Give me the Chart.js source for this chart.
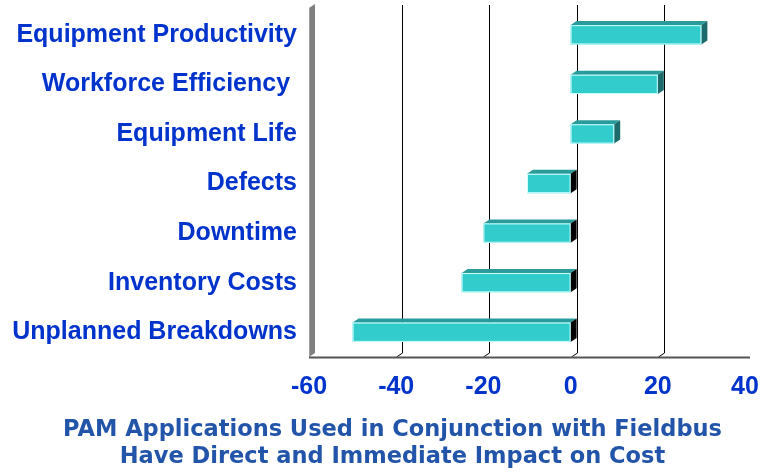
<!DOCTYPE html>
<html>
<head>
<meta charset="utf-8">
<script src="https://cdn.jsdelivr.net/npm/chart.js@4.4.1/dist/chart.umd.min.js"></script>
<style>
  html, body { margin: 0; padding: 0; background: #fff; }
</style>
</head>
<body>
<canvas id="impact" width="764" height="472"></canvas>
<script>
const categories = ["Equipment Productivity", "Workforce Efficiency ", "Equipment Life", "Defects", "Downtime", "Inventory Costs", "Unplanned Breakdowns"];
const impact = [30, 20, 10, -10, -20, -25, -50];
const xTicks = [-60, -40, -20, 0, 20, 40];
const titleLines = ["PAM Applications Used in Conjunction with Fieldbus", "Have Direct and Immediate Impact on Cost"];

// depth of the fake 3d look
const DX = 6, DY = 4;

const box3d = {
    id: 'box3d',
    afterLayout(chart) {
        // the caption sits a bit right of the canvas centre
        if (chart.titleBlock) chart.titleBlock.left = 40;
    },
    beforeDatasetsDraw(chart) {
        const ctx = chart.ctx;
        const area = chart.chartArea;
        const x = chart.scales.x;
        ctx.save();
        // back grid lines
        ctx.strokeStyle = '#000';
        ctx.lineWidth = 1;
        xTicks.forEach(v => {
            if (v === xTicks[0] || v === xTicks[xTicks.length - 1]) return;
            const px = Math.round(x.getPixelForValue(v)) + 0.5;
            ctx.beginPath();
            ctx.moveTo(px + DX, area.top - 5);
            ctx.lineTo(px + DX, area.bottom - DY);
            ctx.lineTo(px, area.bottom);
            ctx.stroke();
        });
        // left wall
        ctx.fillStyle = '#808080';
        ctx.beginPath();
        ctx.moveTo(area.left, area.bottom);
        ctx.lineTo(area.left, area.top - 2);
        ctx.lineTo(area.left + DX, area.top - 2 - DY);
        ctx.lineTo(area.left + DX, area.bottom - DY);
        ctx.closePath();
        ctx.fill();
        ctx.fillStyle = '#a0a0a0';
        ctx.fillRect(area.left, area.top - 2, 1, area.bottom - area.top + 2);
        // floor line
        ctx.strokeStyle = '#555';
        ctx.lineWidth = 2;
        ctx.beginPath();
        ctx.moveTo(area.left, area.bottom + 0.5);
        ctx.lineTo(area.right + 5, area.bottom + 0.5);
        ctx.stroke();
        ctx.restore();
    },
    afterDatasetsDraw(chart) {
        const ctx = chart.ctx;
        const meta = chart.getDatasetMeta(0);
        ctx.save();
        meta.data.forEach((bar, i) => {
            const left = Math.min(bar.x, bar.base);
            const right = Math.max(bar.x, bar.base);
            const top = bar.y - bar.height / 2;
            const bottom = bar.y + bar.height / 2;
            // top face
            ctx.fillStyle = '#2a9b9b';
            ctx.beginPath();
            ctx.moveTo(left, top);
            ctx.lineTo(left + DX, top - DY);
            ctx.lineTo(right + DX, top - DY);
            ctx.lineTo(right, top);
            ctx.closePath();
            ctx.fill();
            // end face
            ctx.fillStyle = impact[i] >= 0 ? '#1d6a6a' : '#000';
            ctx.beginPath();
            ctx.moveTo(right, top);
            ctx.lineTo(right + DX, top - DY);
            ctx.lineTo(right + DX, bottom - DY);
            ctx.lineTo(right, bottom);
            ctx.closePath();
            ctx.fill();
            ctx.strokeStyle = '#ccffff';
            ctx.lineWidth = 1;
            ctx.strokeRect(left + 0.5, top + 0.5, right - left - 1, bottom - top - 1);
        });
        ctx.restore();
    }
};

new Chart(document.getElementById("impact"), {
    type: 'bar',
    data: {
        labels: categories,
        datasets: [{
            label: "Impact",
            backgroundColor: "#33cccc",
            borderWidth: 0,
            data: impact,
            barPercentage: 0.39,
            categoryPercentage: 1
        }]
    },
    options: {
        indexAxis: 'y',
        responsive: false,
        animation: false,
        layout: {
            padding: { top: 10, right: 19, left: 0, bottom: 0 }
        },
        scales: {
            x: {
                min: -60,
                max: 40,
                grid: { display: false, drawTicks: false },
                border: { display: false },
                afterBuildTicks(scale) {
                    scale.ticks = xTicks.map(v => ({ value: v }));
                },
                afterFit(scale) {
                    scale.height = 60;
                    scale.paddingLeft = 0;
                    scale.paddingRight = 0;
                },
                ticks: {
                    color: '#0033cc',
                    padding: 15,
                    font: { family: 'Liberation Sans', size: 25, weight: 'bold' }
                }
            },
            y: {
                grid: { display: false, drawTicks: false },
                border: { display: false },
                afterFit(scale) {
                    scale.width = 309;
                    scale.paddingTop = 0;
                    scale.paddingBottom = 0;
                },
                ticks: {
                    color: '#0033cc',
                    padding: 12,
                    font: { family: 'Liberation Sans', size: 25, weight: 'bold' }
                }
            }
        },
        plugins: {
            legend: { display: false },
            tooltip: { enabled: false },
            title: {
                display: true,
                position: 'bottom',
                text: titleLines,
                color: '#2255aa',
                padding: { top: 0, bottom: 1 },
                font: { family: 'DejaVu Sans', size: 22.5, weight: 'bold', lineHeight: 1.2 }
            }
        }
    },
    plugins: [box3d]
});
</script>
</body>
</html>
